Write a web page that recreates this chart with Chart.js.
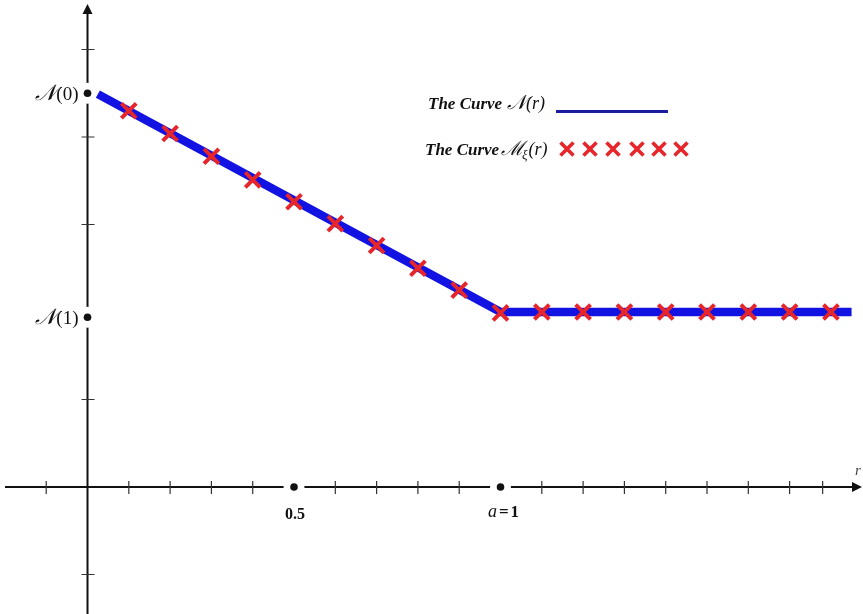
<!DOCTYPE html>
<html><head><meta charset="utf-8">
<script src="https://cdn.jsdelivr.net/npm/chart.js@4/dist/chart.umd.min.js"></script>
<style>html,body{margin:0;padding:0;background:#fff}canvas{display:block}</style>
</head><body>
<canvas id="c" width="863" height="614"></canvas>
<script>
// ---- data ----
const curveR = [0.025, 1.0, 1.85];
const curveN = [4.49, 2.0, 2.0];
const markR = [0.1, 0.2, 0.3, 0.4, 0.5, 0.6, 0.7, 0.8, 0.9, 1.0, 1.1, 1.2, 1.3, 1.4, 1.5, 1.6, 1.7, 1.8];
const markM = [4.30, 4.04, 3.78, 3.51, 3.26, 3.01, 2.76, 2.50, 2.25, 1.99, 2.0, 2.0, 2.0, 2.0, 2.0, 2.0, 2.0, 2.0];
const dotR = [0, 0, 0.5, 1];
const dotN = [4.5, 1.94, 0, 0];
const xTicks = [-0.1, 0.1, 0.2, 0.3, 0.4, 0.6, 0.7, 0.8, 0.9, 1.1, 1.2, 1.3, 1.4, 1.5, 1.6, 1.7, 1.78];
const yTicks = [-1, 1, 3, 4, 5];
const xLabelValues = [0.5, 1];
const xLabelTexts = ['0.5', 'a = 1'];
const yLabelValues = [4.5, 1.94];
const yLabelTexts = ['(0)', '(1)'];
const legendTexts = ['The Curve', 'The Curve'];
const axisName = 'r';

const SERIF = "'Liberation Serif','DejaVu Serif',serif";
const BLUE = '#1212e2';
const RED = '#e6262b';

function pts(xs, ys){ return xs.map((x,i)=>({x:x, y:ys[i]})); }

function drawCross(ctx, cx, cy, h, w, color){
  ctx.save(); ctx.strokeStyle=color; ctx.lineWidth=w; ctx.lineCap='butt';
  ctx.beginPath(); ctx.moveTo(cx-h,cy-h); ctx.lineTo(cx+h,cy+h);
  ctx.moveTo(cx+h,cy-h); ctx.lineTo(cx-h,cy+h); ctx.stroke(); ctx.restore();
}

const axesPlugin = {
  id:'axesPlugin',
  beforeDatasetsDraw(chart){
    const ctx = chart.ctx, xs = chart.scales.x, ys = chart.scales.y;
    const x0 = xs.getPixelForValue(0), y0 = ys.getPixelForValue(0);
    ctx.save();
    ctx.strokeStyle = '#111'; ctx.lineWidth = 2;
    ctx.beginPath();
    ctx.moveTo(5, y0); ctx.lineTo(chart.width - 6, y0);
    ctx.moveTo(x0, chart.height); ctx.lineTo(x0, 12);
    ctx.stroke();
    ctx.fillStyle = '#111';
    // arrows
    ctx.beginPath(); ctx.moveTo(chart.width-1, y0); ctx.lineTo(chart.width-11, y0-5); ctx.lineTo(chart.width-11, y0+5); ctx.closePath(); ctx.fill();
    ctx.beginPath(); ctx.moveTo(x0, 4); ctx.lineTo(x0-5, 14); ctx.lineTo(x0+5, 14); ctx.closePath(); ctx.fill();
    // ticks
    ctx.strokeStyle = '#333'; ctx.lineWidth = 1.2;
    ctx.beginPath();
    xTicks.forEach(v=>{ const p = xs.getPixelForValue(v); ctx.moveTo(p, y0-6); ctx.lineTo(p, y0+7); });
    yTicks.forEach(v=>{ const p = ys.getPixelForValue(v); ctx.moveTo(x0-6, p); ctx.lineTo(x0+7, p); });
    ctx.stroke();
    ctx.restore();
  },
  afterDraw(chart){
    const ctx = chart.ctx, xs = chart.scales.x, ys = chart.scales.y;
    const x0 = xs.getPixelForValue(0), y0 = ys.getPixelForValue(0);
    ctx.save();
    ctx.fillStyle = '#111';
    ctx.textBaseline = 'alphabetic';
    // x labels
    xLabelValues.forEach((v,i)=>{
      const p = xs.getPixelForValue(v);
      const t = xLabelTexts[i];
      if (t.startsWith('a')) {
        const f1 = 'italic 18px ' + SERIF, f2 = 'bold 17px ' + SERIF;
        ctx.font = f1; const w1 = ctx.measureText('a').width;
        ctx.font = f2; const we = ctx.measureText('=').width, w2 = we + ctx.measureText('1').width + 4;
        let sx = p + 3 - (w1 + w2)/2;
        ctx.textAlign='left';
        ctx.font = f1; ctx.fillText('a', sx, y0 + 30);
        ctx.font = f2; ctx.fillText('=', sx + w1 + 2, y0 + 30);
        ctx.fillText('1', sx + w1 + 4 + we, y0 + 30);
      } else {
        ctx.font = 'bold 16px ' + SERIF; ctx.textAlign = 'center';
        ctx.fillText(t, p + 1, y0 + 32);
      }
    });
    // y labels: script N + (k)
    yLabelValues.forEach((v,i)=>{
      const p = ys.getPixelForValue(v);
      ctx.font = '19px ' + SERIF;
      const wp = ctx.measureText(yLabelTexts[i]).width;
      ctx.textAlign = 'right';
      ctx.fillText(yLabelTexts[i], x0 - 9, p + 7);
      ctx.font = 'italic 22px ' + SERIF;
      ctx.fillText('\u{1D4A9}', x0 - 9 - wp, p + 7);
    });
    // axis name
    ctx.font = 'italic 15px ' + SERIF; ctx.textAlign = 'center';
    ctx.fillStyle = '#444';
    ctx.fillText(axisName, 858, y0 - 12);
    // legend
    ctx.fillStyle = '#111'; ctx.textAlign = 'left';
    ctx.font = 'bold italic 17px ' + SERIF;
    ctx.fillText(legendTexts[0], 428, 109);
    ctx.font = 'italic 20px ' + SERIF;
    ctx.fillText('\u{1D4A9}', 507, 109);
    let wn = ctx.measureText('\u{1D4A9}').width;
    ctx.font = 'italic 18px ' + SERIF;
    ctx.fillText('(r)', 507 + wn, 109);
    ctx.strokeStyle = '#1c1ca0'; ctx.lineWidth = 3;
    ctx.beginPath(); ctx.moveTo(556, 111.5); ctx.lineTo(668, 111.5); ctx.stroke();

    ctx.font = 'bold italic 17px ' + SERIF;
    ctx.fillText(legendTexts[1], 425, 155);
    ctx.font = 'italic 20px ' + SERIF;
    ctx.fillText('\u2133', 501, 155);
    let wm = ctx.measureText('\u2133').width;
    ctx.font = 'italic 13px ' + SERIF;
    ctx.fillText('\u03BE', 501 + wm - 2, 159);
    let wx = ctx.measureText('\u03BE').width;
    ctx.font = 'italic 18px ' + SERIF;
    ctx.fillText('(r)', 501 + wm + wx - 1, 155);
    [567, 590, 613, 637, 659, 681].forEach(cx=> drawCross(ctx, cx, 149, 6.5, 3.6, RED));
    ctx.restore();
  }
};

new Chart(document.getElementById('c'), {
  type: 'scatter',
  data: {
    datasets: [
      { data: pts(dotR, dotN), pointRadius: 10.5, pointBackgroundColor: '#fff', pointBorderWidth: 0, order: 4 },
      { type: 'line', data: pts(curveR, curveN), borderColor: BLUE, borderWidth: 8.5, pointRadius: 0, fill: false, tension: 0, order: 3, borderJoinStyle: 'miter' },
      { data: pts(markR, markM), pointStyle: 'crossRot', pointRadius: 10.5, pointBorderWidth: 4, pointBorderColor: RED, borderColor: RED, order: 2 },
      { data: pts(dotR, dotN), pointRadius: 3.8, pointBackgroundColor: '#111', pointBorderWidth: 0, order: 1 }
    ]
  },
  options: {
    responsive: false, animation: false,
    layout: { padding: 0, autoPadding: false },
    plugins: { legend: { display: false }, tooltip: { enabled: false } },
    events: [],
    scales: {
      x: { type: 'linear', display: false, min: -0.2119, max: 1.8777 },
      y: { type: 'linear', display: false, min: -1.4514, max: 5.5657 }
    }
  },
  plugins: [axesPlugin]
});
</script>
</body></html>
